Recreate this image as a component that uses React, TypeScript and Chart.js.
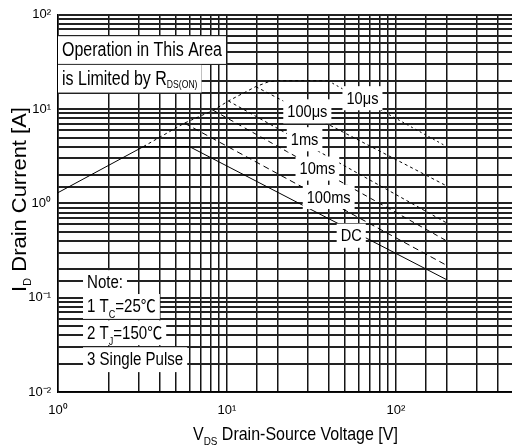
import React, { useEffect, useRef } from 'react';
import { Chart, registerables } from 'chart.js';

Chart.register(...registerables);

// ---- data (V_DS in volts, I_D in amperes) ----
const dcV = [1, 3.2, 6, 200];
const dcI = [1.3, 4, 4, 0.155];
const rdsV = [3.2, 5.6, 8.3, 10.2, 14.8, 17.5, 19.8, 39.6];
const rdsI = [4, 7.1, 9.7, 12.2, 17.3, 19.4, 20, 20];
const ms100V = [5.6, 200];
const ms100I = [7.1, 0.22];
const ms10V = [8.3, 200];
const ms10I = [9.7, 0.4];
const ms1V = [10.2, 200];
const ms1I = [12.2, 0.62];
const us100V = [14.8, 200];
const us100I = [17.3, 1.53];
const us10V = [39.6, 200];
const us10I = [20, 4.0];

const xTickValues = [1, 10, 100];
const xTickLabels = ['10⁰', '10¹', '10²'];
const yTickValues = [0.01, 0.1, 1, 10, 100];
const yTickLabels = ['10⁻²', '10⁻¹', '10⁰', '10¹', '10²'];

const FAMILY = "'Liberation Sans', Arial, 'Noto Sans CJK SC', sans-serif";

type Part = { t: string; sub?: boolean };
type Note = {
  parts: Part[];
  v: number;
  i: number;
  size: number;
  sx: number;
  subSize: number;
  subOff: number;
  align: 'left' | 'center';
};

const curveNote = (t: string, v: number, i: number): Note => ({
  parts: [{ t }], v, i, size: 17, sx: 0.86, subSize: 10, subOff: 3, align: 'center',
});

const notes: Note[] = [
  { parts: [{ t: 'Operation in This Area' }], v: 1.056, i: 42.9, size: 19.5, sx: 0.82, subSize: 10, subOff: 2, align: 'left' },
  { parts: [{ t: 'is Limited by R' }, { t: 'DS(ON)', sub: true }], v: 1.056, i: 21.3, size: 19.5, sx: 0.82, subSize: 10.5, subOff: 2.5, align: 'left' },
  curveNote('10μs', 63.4, 13.2),
  curveNote('100μs', 29.9, 9.58),
  curveNote('1ms', 28.8, 4.85),
  curveNote('10ms', 34.3, 2.37),
  curveNote('100ms', 40.0, 1.185),
  curveNote('DC', 54.4, 0.46),
  { parts: [{ t: 'Note:' }], v: 1.485, i: 0.1466, size: 17.5, sx: 0.86, subSize: 10.5, subOff: 6, align: 'left' },
  { parts: [{ t: '1 T' }, { t: 'C', sub: true }, { t: '=25℃' }], v: 1.485, i: 0.0818, size: 17.5, sx: 0.86, subSize: 10.5, subOff: 6, align: 'left' },
  { parts: [{ t: '2 T' }, { t: 'J', sub: true }, { t: '=150℃' }], v: 1.485, i: 0.043, size: 17.5, sx: 0.86, subSize: 10.5, subOff: 6, align: 'left' },
  { parts: [{ t: '3 Single Pulse' }], v: 1.485, i: 0.0223, size: 17.5, sx: 0.86, subSize: 10.5, subOff: 6, align: 'left' },
];

const xTitle: Part[] = [{ t: 'V' }, { t: 'DS', sub: true }, { t: ' Drain-Source Voltage [V]' }];
const yTitle: Part[] = [{ t: 'I' }, { t: 'D', sub: true }, { t: ' Drain Current [A]' }];

function toXY(xs: number[], ys: number[]) {
  return xs.map((x, k) => ({ x, y: ys[k] }));
}

function tickLabel(value: number, vals: number[], labels: string[]) {
  for (let k = 0; k < vals.length; k++) {
    if (Math.abs(Math.log10(value) - Math.log10(vals[k])) < 1e-6) return labels[k];
  }
  return '';
}

function partsWidth(ctx: CanvasRenderingContext2D, parts: Part[], size: number, subSize: number, sx: number) {
  let w = 0;
  for (const p of parts) {
    ctx.font = `${p.sub ? subSize : size}px ${FAMILY}`;
    w += ctx.measureText(p.t).width * sx;
  }
  return w;
}

function drawParts(ctx: CanvasRenderingContext2D, x: number, y: number, parts: Part[], size: number, subSize: number, subOff: number, sx: number) {
  let cx = x;
  for (const p of parts) {
    ctx.save();
    ctx.font = `${p.sub ? subSize : size}px ${FAMILY}`;
    const w = ctx.measureText(p.t).width * sx;
    ctx.translate(cx, y + (p.sub ? subOff : 0));
    ctx.scale(sx, 1);
    ctx.fillStyle = '#000';
    ctx.textBaseline = 'alphabetic';
    ctx.textAlign = 'left';
    ctx.fillText(p.t, 0, 0);
    ctx.restore();
    cx += w;
  }
}

const textPlugin = {
  id: 'soaText',
  afterDraw(chart: any) {
    const ctx: CanvasRenderingContext2D = chart.ctx;
    const xs = chart.scales.x;
    const ys = chart.scales.y;
    ctx.save();
    for (const n of notes) {
      const px = xs.getPixelForValue(n.v);
      const py = ys.getPixelForValue(n.i);
      const w = partsWidth(ctx, n.parts, n.size, n.subSize, n.sx);
      const left = n.align === 'center' ? px - w / 2 : px;
      ctx.fillStyle = '#fff';
      ctx.fillRect(left - 4, py - 0.68 * n.size, w + 8, 1.42 * n.size);
      drawParts(ctx, left, py + 0.36 * n.size, n.parts, n.size, n.subSize, n.subOff, n.sx);
    }
    // x axis title
    drawParts(ctx, 193, 440, xTitle, 18.6, 11.5, 4.5, 0.86);
    // y axis title (rotated)
    ctx.save();
    ctx.translate(26, 292);
    ctx.rotate(-Math.PI / 2);
    drawParts(ctx, 0, 0, yTitle, 20.5, 10.5, 5, 1.07);
    ctx.restore();
    ctx.restore();
  },
};

const lineDs = (label: string, xs: number[], ys: number[], dash: number[]) => ({
  label,
  data: toXY(xs, ys),
  showLine: true,
  borderColor: '#000',
  borderWidth: 1,
  borderDash: dash,
  pointRadius: 0,
  fill: false,
  tension: 0,
});

export default function App() {
  const ref = useRef<HTMLCanvasElement>(null);
  useEffect(() => {
    const canvas = ref.current;
    if (!canvas) return;
    const tickFont = { family: FAMILY, size: 13 };
    const chart = new Chart(canvas, {
      type: 'scatter',
      data: {
        datasets: [
          lineDs('RDS(ON) limit', rdsV, rdsI, [3, 3]),
          lineDs('10μs', us10V, us10I, [2, 3]),
          lineDs('100μs', us100V, us100I, [3, 3]),
          lineDs('1ms', ms1V, ms1I, [3, 3]),
          lineDs('10ms', ms10V, ms10I, [5, 4]),
          lineDs('100ms', ms100V, ms100I, [6, 4]),
          lineDs('DC', dcV, dcI, []),
        ] as any,
      },
      plugins: [textPlugin],
      options: {
        responsive: false,
        animation: false,
        layout: { padding: { left: 0, top: 13, right: 16, bottom: 0 } },
        plugins: { legend: { display: false }, tooltip: { enabled: false } },
        scales: {
          x: {
            type: 'logarithmic',
            min: 1,
            max: 500,
            grid: { color: '#151515', lineWidth: 1.5, drawTicks: false },
            border: { color: '#000', width: 1.5 },
            ticks: {
              autoSkip: false,
              maxRotation: 0,
              minRotation: 0,
              padding: 11,
              color: '#000',
              font: tickFont,
              callback: (v: any) => tickLabel(Number(v), xTickValues, xTickLabels),
            },
            afterFit: (s: any) => { s.height = 56; },
          },
          y: {
            type: 'logarithmic',
            min: 0.01,
            max: 100,
            grid: { color: '#222', lineWidth: 1.9, drawTicks: false },
            border: { color: '#000', width: 1.5 },
            ticks: {
              autoSkip: false,
              padding: 7,
              color: '#000',
              font: tickFont,
              callback: (v: any) => tickLabel(Number(v), yTickValues, yTickLabels),
            },
            afterFit: (s: any) => { s.width = 58; },
          },
        },
      } as any,
    });
    return () => chart.destroy();
  }, []);
  return (
    <div style={{ position: 'absolute', left: 0, top: 0, width: 512, height: 448, overflow: 'hidden', background: '#fff' }}>
      <canvas ref={ref} width={530} height={448} style={{ display: 'block', width: 530, height: 448 }} />
    </div>
  );
}
